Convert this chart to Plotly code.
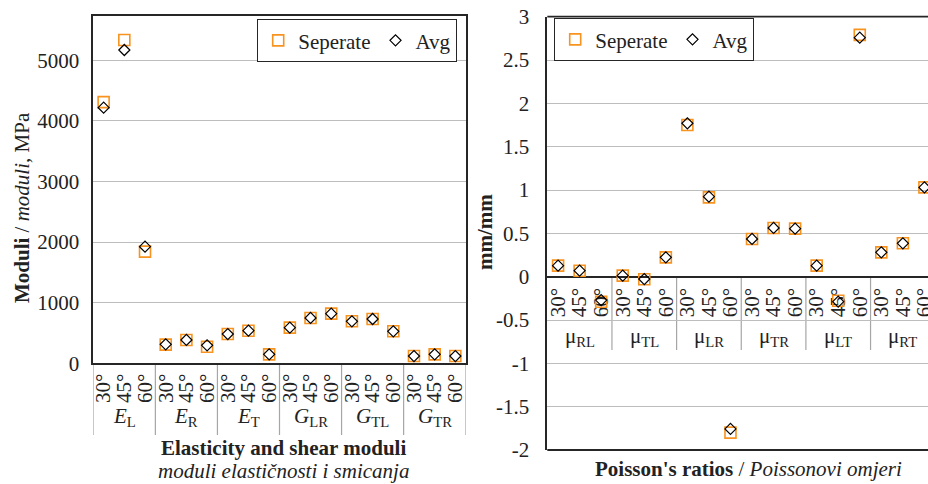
import plotly.graph_objects as go

# ---------------- data ----------------
angles = ["30°", "45°", "60°"]
mod_groups = ["<i>E</i><sub>L</sub>", "<i>E</i><sub>R</sub>", "<i>E</i><sub>T</sub>",
              "<i>G</i><sub>LR</sub>", "<i>G</i><sub>TL</sub>", "<i>G</i><sub>TR</sub>"]
poi_groups = ["μ<sub>RL</sub>", "μ<sub>TL</sub>", "μ<sub>LR</sub>",
              "μ<sub>TR</sub>", "μ<sub>LT</sub>", "μ<sub>RT</sub>"]

mod_sep = [4310, 5335, 1842, 308, 385, 272, 483, 538, 148, 588, 748, 819, 693, 731, 528, 120, 148, 120]
mod_avg = [4218, 5170, 1925, 313, 385, 297, 483, 538, 148, 588, 748, 819, 693, 731, 528, 120, 148, 120]

poi_sep = [0.127, 0.069, -0.29, 0.012, -0.03, 0.223, 1.75, 0.915, -1.80, 0.435, 0.562, 0.554,
           0.127, -0.277, 2.79, 0.281, 0.385, 1.03]
poi_avg = [0.127, 0.069, -0.27, 0.012, -0.027, 0.223, 1.77, 0.923, -1.757, 0.435, 0.562, 0.554,
           0.127, -0.288, 2.758, 0.281, 0.385, 1.03]

mod_ticks = [0, 1000, 2000, 3000, 4000, 5000]
mod_ticktext = ["0", "1000", "2000", "3000", "4000", "5000"]
poi_ticks = [-2, -1.5, -1, -0.5, 0, 0.5, 1, 1.5, 2, 2.5, 3]
poi_ticktext = ["-2", "-1.5", "-1", "-0.5", "0", "0.5", "1", "1.5", "2", "2.5", "3"]

# ---------------- style ----------------
FONT = "Liberation Serif, Times New Roman, serif"
TXT = "#222222"
ORANGE = "#F7931E"
GRID = "#bdbdbd"
DARK = "#262626"
W, H = 928, 484

n = len(mod_groups) * len(angles)
xpos = list(range(n))
xlabels = [a for _ in mod_groups for a in angles]
gcenters = [i * len(angles) + 1 for i in range(len(mod_groups))]
bounds = [i * len(angles) - 0.5 for i in range(len(mod_groups) + 1)]

sq = dict(symbol="square-open", size=11, color=ORANGE, line=dict(color=ORANGE, width=1.6))
dm = dict(symbol="diamond-open", size=8.5, color="black", line=dict(color="black", width=1.2))

fig = go.Figure()
fig.add_trace(go.Scatter(x=xpos, y=mod_sep, mode="markers", name="Seperate", marker=sq,
                         xaxis="x", yaxis="y", legend="legend", cliponaxis=False))
fig.add_trace(go.Scatter(x=xpos, y=mod_avg, mode="markers", name="Avg", marker=dm,
                         xaxis="x", yaxis="y", legend="legend", cliponaxis=False))
fig.add_trace(go.Scatter(x=xpos, y=poi_sep, mode="markers", name="Seperate", marker=sq,
                         xaxis="x2", yaxis="y2", legend="legend2", cliponaxis=False))
fig.add_trace(go.Scatter(x=xpos, y=poi_avg, mode="markers", name="Avg", marker=dm,
                         xaxis="x2", yaxis="y2", legend="legend2", cliponaxis=False))

def px_x(p):
    return p / W

def px_y(p):
    return 1 - p / H

tickfont = dict(family=FONT, size=21, color=TXT)

fig.update_layout(
    width=W, height=H, margin=dict(l=0, r=0, t=0, b=0),
    paper_bgcolor="white", plot_bgcolor="white",
    font=dict(family=FONT, size=21, color=TXT),
    xaxis=dict(domain=[px_x(93.3), px_x(465.7)], range=[-0.5, n - 0.5], anchor="y",
               tickmode="array", tickvals=xpos, ticktext=xlabels, tickangle=-90,
               tickfont=tickfont, showgrid=False, zeroline=False, ticks="",
               showline=True, linecolor=DARK, linewidth=1.8, mirror=True,
               ticklabelstandoff=0, automargin=False),
    yaxis=dict(domain=[px_y(363.3), px_y(16)], range=[0, 5731], anchor="x",
               tickmode="array", tickvals=mod_ticks, ticktext=mod_ticktext,
               tickfont=tickfont, showgrid=True, gridcolor=GRID, gridwidth=1.2,
               zeroline=False, ticks="", showline=True, linecolor=DARK, linewidth=1.8,
               mirror=True, ticklabelstandoff=8, automargin=False),
    xaxis2=dict(domain=[px_x(547.3), 1.0], range=[-0.5, -0.5 + (W - 547.3) / 21.55],
                anchor="free", position=px_y(276.7),
                tickmode="array", tickvals=xpos, ticktext=xlabels, tickangle=-90,
                tickfont=tickfont, showgrid=False, zeroline=False, ticks="",
                showline=False, layer="below traces", ticklabelstandoff=6,
                ticklabeloverflow="allow", automargin=False),
    yaxis2=dict(domain=[px_y(450), px_y(16.7)], range=[-2, 3], anchor="x2",
                tickmode="array", tickvals=poi_ticks, ticktext=poi_ticktext,
                tickfont=tickfont, showgrid=True, gridcolor=GRID, gridwidth=1.2,
                zeroline=True, zerolinecolor=DARK, zerolinewidth=2.4,
                ticks="", showline=True, linecolor=DARK, linewidth=1.8, mirror=False,
                ticklabelstandoff=12, automargin=False),
    legend=dict(orientation="h", x=px_x(457), xanchor="right", y=px_y(19), yanchor="top",
                bgcolor="white", bordercolor=DARK, borderwidth=1.2,
                font=dict(family=FONT, size=21, color=TXT), itemwidth=30,
                tracegroupgap=0),
    legend2=dict(orientation="h", x=px_x(554), xanchor="left", y=px_y(18), yanchor="top",
                 bgcolor="white", bordercolor=DARK, borderwidth=1.2,
                 font=dict(family=FONT, size=21, color=TXT), itemwidth=30,
                 tracegroupgap=0),
    showlegend=True,
)

shapes = []
# left category separators
for b in bounds:
    shapes.append(dict(type="line", xref="x", yref="paper", x0=b, x1=b,
                       y0=px_y(363.3), y1=px_y(435), line=dict(color="#a6a6a6", width=1.2),
                       layer="below"))
# right category separators
for b in bounds[1:-1]:
    shapes.append(dict(type="line", xref="x2", yref="y2", x0=b, x1=b,
                       y0=0, y1=-0.846, line=dict(color="#a6a6a6", width=1.2), layer="below"))
# right frame top & bottom
for yy in (0, 1):
    shapes.append(dict(type="line", xref="x2 domain", yref="y2 domain", x0=0, x1=1,
                       y0=yy, y1=yy, line=dict(color=DARK, width=1.8)))
fig.update_layout(shapes=shapes)

def note(x, y, text, xref="paper", angle=0):
    return dict(x=x, y=y, xref=xref, yref="paper", text=text, showarrow=False,
                xanchor="center", yanchor="middle", textangle=angle,
                font=dict(family=FONT, size=21, color=TXT))

ann = []
for g, c in zip(mod_groups, gcenters):
    ann.append(note(c, px_y(417), g, xref="x"))
for g, c in zip(poi_groups, gcenters):
    ann.append(note(c, px_y(337), g, xref="x2"))
ann += [
    note(px_x(283), px_y(448), "<b>Elasticity and shear moduli</b>"),
    note(px_x(283), px_y(471), "<i>moduli elastičnosti i smicanja</i>"),
    note(px_x(748), px_y(469), "<b>Poisson's ratios</b> / <i>Poissonovi omjeri</i>"),
    note(px_x(22), px_y(208), "<b>Moduli</b> / <i>moduli</i>, MPa", angle=-90),
    note(px_x(485), px_y(232), "<b>mm/mm</b>", angle=-90),
]
fig.update_layout(annotations=ann)

fig.write_html("out.html")
